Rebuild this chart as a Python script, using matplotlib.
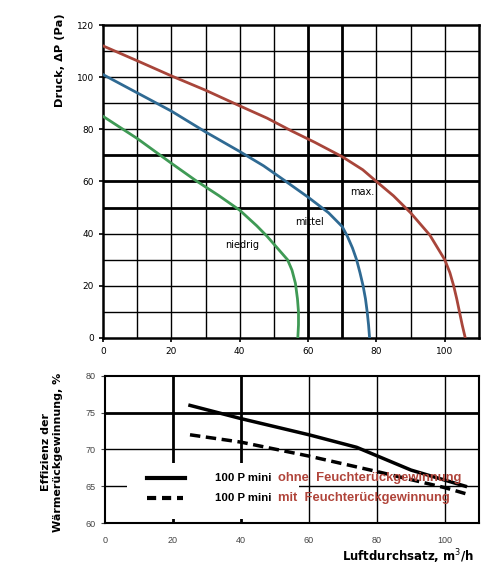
import matplotlib.pyplot as plt
from matplotlib.patches import Rectangle

# Kennlinien (Druck ueber Luftdurchsatz)
max_x = [0, 10, 20, 30, 40, 48, 55, 62, 70, 76, 80, 85, 90, 95.6, 100, 101.5, 102.6, 103.5, 104.3, 105.1, 106]
max_y = [112, 106.3, 100.5, 95, 89, 84.3, 79.5, 75, 69.5, 64.5, 60, 54.5, 48, 39.5, 30, 25, 20, 15, 10, 5, 0]

mittel_x = [0, 10, 20, 30, 40, 47, 53, 60, 66, 70, 71.5, 73, 74.2, 75.2, 76.1, 76.8, 77.3, 77.7, 78]
mittel_y = [101, 94, 87, 79, 71.5, 66, 60.5, 54, 48, 42.7, 39, 34.5, 30, 25, 20, 15, 10, 5, 0]

niedrig_x = [0, 10, 20, 27, 34, 40, 45, 48, 51, 54, 55.3, 56.3, 56.9, 57.2, 57.2, 57]
niedrig_y = [85, 76.5, 67, 60.5, 54.5, 49, 43, 39, 34.5, 30, 26, 21, 15, 10, 5, 0]

# Effizienz der Waermerueckgewinnung
ohne_x = [25, 40, 60, 74, 90, 106]
ohne_y = [76, 74.2, 72, 70.3, 67.2, 65]
mit_x = [25, 40, 60, 80, 100, 106]
mit_y = [72, 71, 69.1, 67, 64.8, 64]

red = '#a8453a'
blue = '#2f6a93'
green = '#3f9a55'
txt_red = '#b0443a'

fig = plt.figure(figsize=(4.92, 5.67), dpi=100)

# --- oberes Diagramm ---
ax1 = fig.add_axes([0.2093, 0.4039, 0.7642, 0.552])
ax1.set_xlim(0, 110)
ax1.set_ylim(0, 120)
for gx in range(10, 110, 10):
    lw = 2.0 if gx in (60, 70) else 1.0
    ax1.axvline(gx, color='black', lw=lw, zorder=1)
for gy in range(10, 120, 10):
    lw = 2.0 if gy in (50, 60, 70) else 1.0
    ax1.axhline(gy, color='black', lw=lw, zorder=1)

ax1.plot(max_x, max_y, color=red, lw=2, zorder=3)
ax1.plot(mittel_x, mittel_y, color=blue, lw=2, zorder=3)
ax1.plot(niedrig_x, niedrig_y, color=green, lw=2, zorder=3)

ax1.text(72.3, 56, 'max.', fontsize=7, va='center', zorder=4)
ax1.text(56.2, 44.6, 'mittel', fontsize=7, va='center', zorder=4)
ax1.text(35.8, 35.6, 'niedrig', fontsize=7, va='center', zorder=4)

ax1.set_xticks(range(0, 101, 20))
ax1.set_yticks(range(0, 121, 20))
ax1.tick_params(labelsize=6.5, length=3, width=1.2, colors='black')
for s in ax1.spines.values():
    s.set_linewidth(1.8)
fig.text(0.122, 0.894, 'Druck, \u0394P (Pa)', rotation=90, fontsize=8.2,
         fontweight='bold', ha='center', va='center')

# --- unteres Diagramm ---
ax2 = fig.add_axes([0.2134, 0.0776, 0.7602, 0.2593])
ax2.set_xlim(0, 110)
ax2.set_ylim(60, 80)
for gx in range(20, 101, 20):
    lw = 2.0 if gx in (20, 40) else 1.0
    ax2.axvline(gx, color='black', lw=lw, zorder=1)
for gy in (65, 70, 75):
    lw = 2.0 if gy == 75 else 1.0
    ax2.axhline(gy, color='black', lw=lw, zorder=1)

ax2.add_patch(Rectangle((6.5, 60.6), 50.5, 7.6, facecolor='white',
                        edgecolor='none', zorder=2))

ax2.plot(ohne_x, ohne_y, color='black', lw=2.5, zorder=3)
ax2.plot(mit_x, mit_y, color='black', lw=2.5, ls=(0, (3, 1.6)), zorder=3)

# Legende
ax2.plot([12.5, 23.5], [66.1, 66.1], color='black', lw=3, zorder=4)
ax2.plot([12.5, 23], [63.4, 63.4], color='black', lw=3, ls=(0, (2.2, 1.4)), zorder=4)
ax2.text(32.5, 66.1, '100 P mini', fontsize=8.2, fontweight='bold',
         family='Liberation Sans', va='center', zorder=5)
ax2.text(51, 66.1, 'ohne  Feuchter\u00fcckgewinnung', fontsize=9.4,
         fontweight='bold', family='Liberation Sans', color=txt_red,
         va='center', zorder=5)
ax2.text(32.5, 63.4, '100 P mini', fontsize=8.2, fontweight='bold',
         family='Liberation Sans', va='center', zorder=5)
ax2.text(51, 63.4, 'mit  Feuchter\u00fcckgewinnung', fontsize=9.4,
         fontweight='bold', family='Liberation Sans', color=txt_red,
         va='center', zorder=5)

ax2.set_xticks(range(0, 101, 20))
ax2.set_yticks(range(60, 81, 5))
ax2.tick_params(axis='y', labelsize=6.5, length=3, colors='#444444')
ax2.tick_params(axis='x', labelsize=6.5, length=0, colors='#444444', pad=9)
for lab in ax2.get_xticklabels() + ax2.get_yticklabels():
    lab.set_family('Liberation Sans')
for s in ax2.spines.values():
    s.set_linewidth(1.5)

fig.text(0.106, 0.203, 'Effizienz der\nW\u00e4rmer\u00fcckgewinnung, %', rotation=90,
         fontsize=8, fontweight='bold', ha='center', va='center',
         linespacing=1.3)
fig.text(0.963, 0.018, 'Luftdurchsatz, m$^3$/h', fontsize=8.5,
         fontweight='bold', ha='right', va='center')

fig.savefig('out.png', dpi=100)
